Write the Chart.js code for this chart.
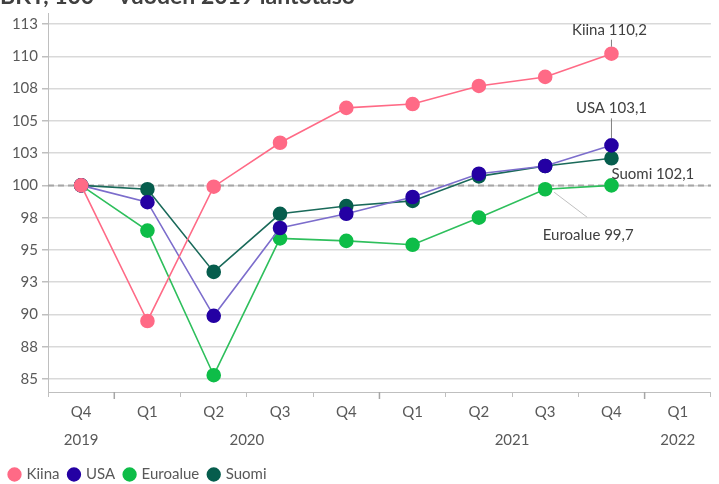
<!DOCTYPE html>
<html>
<head>
<meta charset="utf-8">
<script src="https://cdn.jsdelivr.net/npm/chart.js@4/dist/chart.umd.min.js"></script>
<style>
  html, body { margin: 0; padding: 0; background: #fff; }
  #wrap { width: 719px; height: 484px; }
</style>
</head>
<body>
<div id="wrap"><canvas id="chart"></canvas></div>
<script>
const quarters = ["Q4", "Q1", "Q2", "Q3", "Q4", "Q1", "Q2", "Q3", "Q4", "Q1"];
const years = [
  { label: "2019", from: 0, to: 0 },
  { label: "2020", from: 1, to: 4 },
  { label: "2021", from: 5, to: 8 },
  { label: "2022", from: 9, to: 9 },
];
const yTicks = [85, 87.5, 90, 92.5, 95, 97.5, 100, 102.5, 105, 107.5, 110, 112.5];

const kiina = [100, 89.5, 99.9, 103.3, 106.0, 106.3, 107.7, 108.4, 110.2, null];
const usa = [100, 98.7, 89.9, 96.7, 97.8, 99.1, 100.9, 101.5, 103.1, null];
const euroalue = [100, 96.5, 85.3, 95.9, 95.7, 95.4, 97.5, 99.7, 100.0, null];
const suomi = [100, 99.7, 93.3, 97.8, 98.4, 98.8, 100.7, 101.5, 102.1, null];

const FONT = "Lato, 'Open Sans', sans-serif";
const TEXT = "#595959";

// labels at the line ends, offsets relative to the point
const endLabels = [
  { ds: 0, i: 8, text: "Kiina 110,2", dx: -2, dy: -24, align: "center", leader: [0, -14, 0, -7], leaderColor: "#808080" },
  { ds: 1, i: 8, text: "USA 103,1", dx: 0, dy: -37, align: "center", leader: [0, -27, 0, -7], leaderColor: "#808080" },
  { ds: 3, i: 8, text: "Suomi 102,1", dx: 0, dy: 16, align: "left" },
  { ds: 2, i: 7, text: "Euroalue 99,7", dx: 43, dy: 46, align: "center", leader: [9, 3, 42, 28], leaderColor: "#c0c0c0" },
];

function series(label, data, pointColor, lineColor) {
  return {
    label,
    data,
    borderColor: lineColor,
    backgroundColor: pointColor,
    pointBackgroundColor: pointColor,
    pointBorderColor: pointColor,
    pointRadius: 6.5,
    pointHoverRadius: 6.5,
    borderWidth: 1.6,
    tension: 0,
  };
}

const extras = {
  id: "extras",
  beforeDraw(chart) {
    const ctx = chart.ctx;
    ctx.save();
    ctx.font = "bold 23px " + FONT;
    ctx.fillStyle = "#404040";
    ctx.textBaseline = "alphabetic";
    ctx.fillText("BKT, 100 = vuoden 2019 lähtötaso", 0, 4);
    ctx.restore();
  },
  beforeDatasetsDraw(chart) {
    const { ctx, chartArea, scales } = chart;
    const y = scales.y.getPixelForValue(100);
    ctx.save();
    ctx.strokeStyle = "#a6a6a6";
    ctx.lineWidth = 2;
    ctx.setLineDash([6, 4]);
    ctx.beginPath();
    ctx.moveTo(chartArea.left, y);
    ctx.lineTo(chartArea.right, y);
    ctx.stroke();
    ctx.restore();
  },
  afterDatasetsDraw(chart) {
    const ctx = chart.ctx;
    ctx.save();
    endLabels.forEach((l) => {
      const pt = chart.getDatasetMeta(l.ds).data[l.i];
      if (l.leader) {
        ctx.strokeStyle = l.leaderColor;
        ctx.lineWidth = 1;
        ctx.beginPath();
        ctx.moveTo(pt.x + l.leader[0], pt.y + l.leader[1]);
        ctx.lineTo(pt.x + l.leader[2], pt.y + l.leader[3]);
        ctx.stroke();
      }
      ctx.font = "15px " + FONT;
      ctx.fillStyle = "#404040";
      ctx.textAlign = l.align;
      ctx.textBaseline = "middle";
      ctx.fillText(l.text, pt.x + l.dx, pt.y + l.dy);
    });
    const x = chart.scales.x;
    // longer ticks where the year changes
    ctx.strokeStyle = "#a6a6a6";
    ctx.lineWidth = 1.5;
    years.slice(1).forEach((yr) => {
      const bx = (x.getPixelForValue(yr.from - 1) + x.getPixelForValue(yr.from)) / 2;
      ctx.beginPath();
      ctx.moveTo(bx, x.top);
      ctx.lineTo(bx, x.top + 7);
      ctx.stroke();
    });
    // year row under the quarter labels
    ctx.font = "15px " + FONT;
    ctx.fillStyle = TEXT;
    ctx.textAlign = "center";
    ctx.textBaseline = "middle";
    years.forEach((yr) => {
      const cx = (x.getPixelForValue(yr.from) + x.getPixelForValue(yr.to)) / 2;
      ctx.fillText(yr.label, cx, x.top + 48);
    });
    ctx.restore();
  },
};

new Chart(document.getElementById("chart"), {
  type: "line",
  data: {
    labels: quarters,
    datasets: [
      series("Kiina", kiina, "#ff6a86", "#ff6a86"),
      series("USA", usa, "#2400a3", "#7c6dcc"),
      series("Euroalue", euroalue, "#0ebd48", "#2ebf5c"),
      series("Suomi", suomi, "#065d4d", "#1a6a5a"),
    ],
  },
  options: {
    responsive: true,
    maintainAspectRatio: false,
    animation: false,
    layout: { padding: { top: 10, left: 0, right: 0, bottom: -8 } },
    plugins: {
      tooltip: { enabled: false },
      legend: {
        position: "bottom",
        align: "start",
        labels: {
          usePointStyle: true,
          pointStyle: "circle",
          boxWidth: 9,
          boxHeight: 9,
          padding: 10,
          color: TEXT,
          font: { family: FONT, size: 15 },
        },
      },
    },
    scales: {
      x: {
        offset: true,
        grid: { offset: true, drawOnChartArea: false, drawTicks: true, tickLength: 5, color: "#bfbfbf" },
        border: { color: "#bfbfbf", width: 1 },
        ticks: { color: TEXT, font: { family: FONT, size: 15 }, padding: 6, maxRotation: 0, autoSkip: false },
        afterFit: (scale) => { scale.height = 65; },
      },
      y: {
        min: 84,
        max: 113.35,
        afterBuildTicks: (scale) => { scale.ticks = yTicks.map((v) => ({ value: v })); },
        grid: { color: "#d9d9d9", lineWidth: 1.5, tickLength: 6, tickColor: "#bfbfbf" },
        border: { color: "#bfbfbf", width: 1 },
        ticks: {
          color: TEXT,
          font: { family: FONT, size: 15 },
          padding: 4,
          callback: (v) => Math.round(v),
        },
        afterFit: (scale) => { scale.width = 48; },
      },
    },
  },
  plugins: [extras],
});
</script>
</body>
</html>
